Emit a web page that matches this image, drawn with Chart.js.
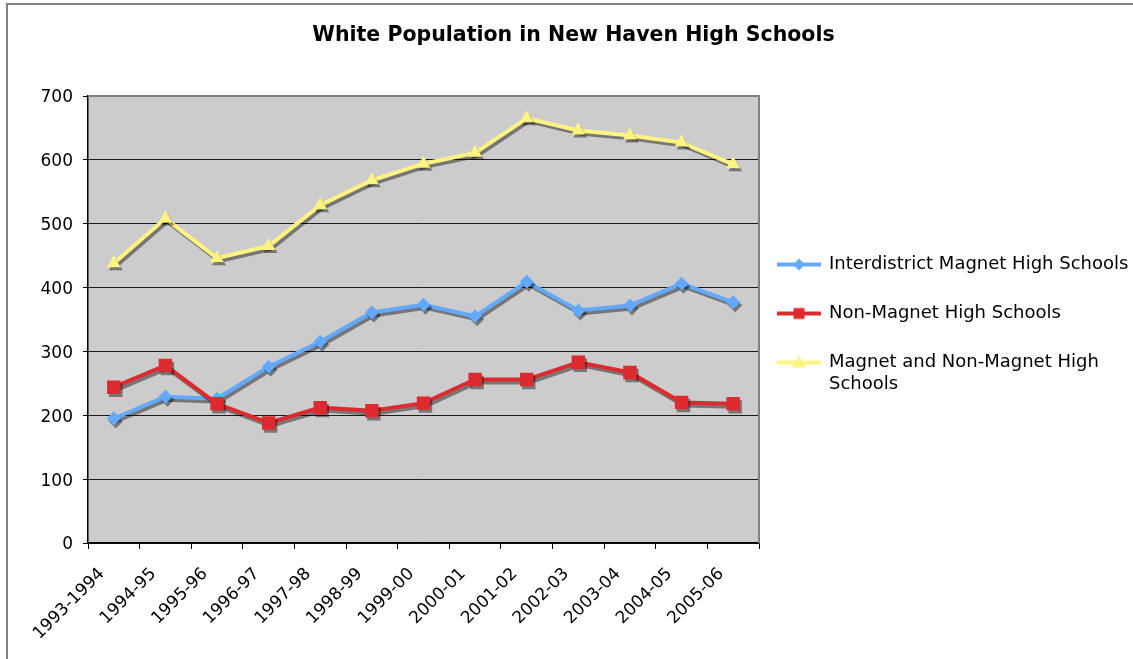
<!DOCTYPE html>
<html>
<head>
<meta charset="utf-8">
<script src="https://cdn.jsdelivr.net/npm/chart.js@4.4.1/dist/chart.umd.min.js"></script>
<style>
html, body { margin: 0; padding: 0; background: #ffffff; }
#wrap { position: relative; width: 1133px; height: 659px; overflow: hidden; }
#c { position: absolute; left: 0; top: 0; }
#frame { position: absolute; left: 6px; top: 3px; width: 2000px; height: 2000px;
  border-left: 2px solid #808080; border-top: 2px solid #808080; pointer-events: none; }
</style>
</head>
<body>
<div id="wrap">
  <canvas id="c" width="1133" height="659"></canvas>
  <div id="frame"></div>
</div>
<script>
// ---- data ----
const categories = ['1993-1994', '1994-95', '1995-96', '1996-97', '1997-98', '1998-99', '1999-00',
  '2000-01', '2001-02', '2002-03', '2003-04', '2004-05', '2005-06'];
const interdistrict = [195, 229, 226, 276, 315, 361, 373, 355, 409, 364, 372, 406, 377];
const nonMagnet = [244, 278, 218, 188, 212, 207, 219, 256, 256, 283, 267, 220, 218];
const allSchools = [438, 508, 446, 465, 529, 568, 594, 611, 665, 646, 638, 627, 593];
const seriesNames = ['Interdistrict Magnet High Schools', 'Non-Magnet High Schools', 'Magnet and Non-Magnet High Schools'];
const legendLines = [['Interdistrict Magnet High Schools'], ['Non-Magnet High Schools'], ['Magnet and Non-Magnet High', 'Schools']];
const chartTitle = 'White Population in New Haven High Schools';
const yMin = 0, yMax = 700, yStep = 100;

// ---- styles ----
const FONT = 'DejaVu Sans';
const colors = ['#62a9ff', '#dd2a2f', '#fff382'];
const styles = ['rectRot', 'rect', 'triangle'];
const radii = [7, 9.5, 8];

Chart.defaults.font.family = FONT;
Chart.defaults.color = '#000000';

function makeLegendIcon(color, style) {
  const c = document.createElement('canvas');
  c.width = 52; c.height = 20;
  const g = c.getContext('2d');
  g.strokeStyle = color; g.fillStyle = color; g.lineWidth = 4;
  g.beginPath(); g.moveTo(0, 10); g.lineTo(44, 10); g.stroke();
  g.beginPath();
  const cx = 22, cy = 10;
  if (style === 'rectRot') {
    g.moveTo(cx, cy - 6); g.lineTo(cx + 6, cy); g.lineTo(cx, cy + 6); g.lineTo(cx - 6, cy);
  } else if (style === 'rect') {
    g.rect(cx - 5.5, cy - 5.5, 11, 11);
  } else {
    g.moveTo(cx, cy - 7); g.lineTo(cx + 7, cy + 5); g.lineTo(cx - 7, cy + 5);
  }
  g.closePath(); g.fill();
  return c;
}
const legendIcons = colors.map((c, i) => makeLegendIcon(c, styles[i]));

const plotFrame = {
  id: 'plotFrame',
  beforeLayout(chart) {
    const lg = chart.legend;
    if (lg && !lg._fixedWidth) {
      const orig = lg.fit.bind(lg);
      lg.fit = function () { orig(); this.width = 374; };
      lg._fixedWidth = true;
    }
  },
  beforeDraw(chart) {
    const { ctx, chartArea: a } = chart;
    ctx.save();
    ctx.fillStyle = '#cccccc';
    ctx.fillRect(a.left, a.top, a.right - a.left, a.bottom - a.top);
    ctx.restore();
  },
  beforeDatasetsDraw(chart) {
    const { ctx, chartArea: a } = chart;
    ctx.save();
    ctx.strokeStyle = '#808080';
    ctx.lineWidth = 2;
    ctx.beginPath();
    ctx.moveTo(a.left, a.top); ctx.lineTo(a.right, a.top); ctx.lineTo(a.right, a.bottom);
    ctx.stroke();
    ctx.restore();
    ctx.save();
    ctx.shadowColor = 'rgba(0,0,0,0.42)';
    ctx.shadowOffsetX = 2;
    ctx.shadowOffsetY = 3;
    ctx.shadowBlur = 0;
  },
  afterDatasetsDraw(chart) {
    chart.ctx.restore();
  }
};

const seriesData = [interdistrict, nonMagnet, allSchools];
const drawOrder = [1, 0, 2];

new Chart(document.getElementById('c'), {
  type: 'line',
  data: {
    labels: categories,
    datasets: seriesData.map((d, i) => ({
      label: seriesNames[i],
      data: d,
      borderColor: colors[i],
      backgroundColor: colors[i],
      pointBackgroundColor: colors[i],
      pointBorderColor: colors[i],
      pointBorderWidth: 0,
      pointStyle: styles[i],
      pointRadius: radii[i],
      borderWidth: 4,
      tension: 0,
      fill: false,
      order: drawOrder[i]
    }))
  },
  options: {
    responsive: false,
    animation: false,
    events: [],
    layout: { padding: { left: 14, right: 0, top: 0, bottom: 6 } },
    plugins: {
      title: {
        display: true,
        text: chartTitle,
        color: '#000000',
        font: { family: FONT, size: 20.5, weight: 'bold' },
        padding: { top: 23, bottom: 48.4 }
      },
      legend: {
        display: true,
        position: 'right',
        align: 'center',
        labels: {
          usePointStyle: true,
          pointStyleWidth: 34,
          padding: 27,
          color: '#000000',
          font: { family: FONT, size: 18, lineHeight: 22 / 18 },
          generateLabels: () => legendLines.map((t, i) => ({
            text: t,
            pointStyle: legendIcons[i],
            fillStyle: colors[i],
            strokeStyle: colors[i],
            lineWidth: 0,
            hidden: false,
            datasetIndex: i
          }))
        }
      },
      tooltip: { enabled: false }
    },
    scales: {
      x: {
        type: 'category',
        offset: true,
        grid: { display: true, offset: true, drawOnChartArea: false, drawTicks: true, tickLength: 6, tickColor: '#000000', color: '#000000' },
        border: { display: true, color: '#000000', width: 1.5 },
        ticks: { minRotation: 45, maxRotation: 45, padding: 15, labelOffset: -12, color: '#000000', font: { family: FONT, size: 17 }, autoSkip: false },
        afterFit(scale) { scale.height = 110; }
      },
      y: {
        min: yMin, max: yMax,
        grid: { color: '#1a1a1a', lineWidth: 1, drawTicks: true, tickLength: 5, tickColor: '#000000' },
        border: { display: true, color: '#000000', width: 1.5 },
        ticks: { stepSize: yStep, padding: 10, labelOffset: 2, color: '#000000', font: { family: FONT, size: 17 } },
        afterFit(scale) { scale.width = 74; }
      }
    }
  },
  plugins: [plotFrame]
});
</script>
</body>
</html>
